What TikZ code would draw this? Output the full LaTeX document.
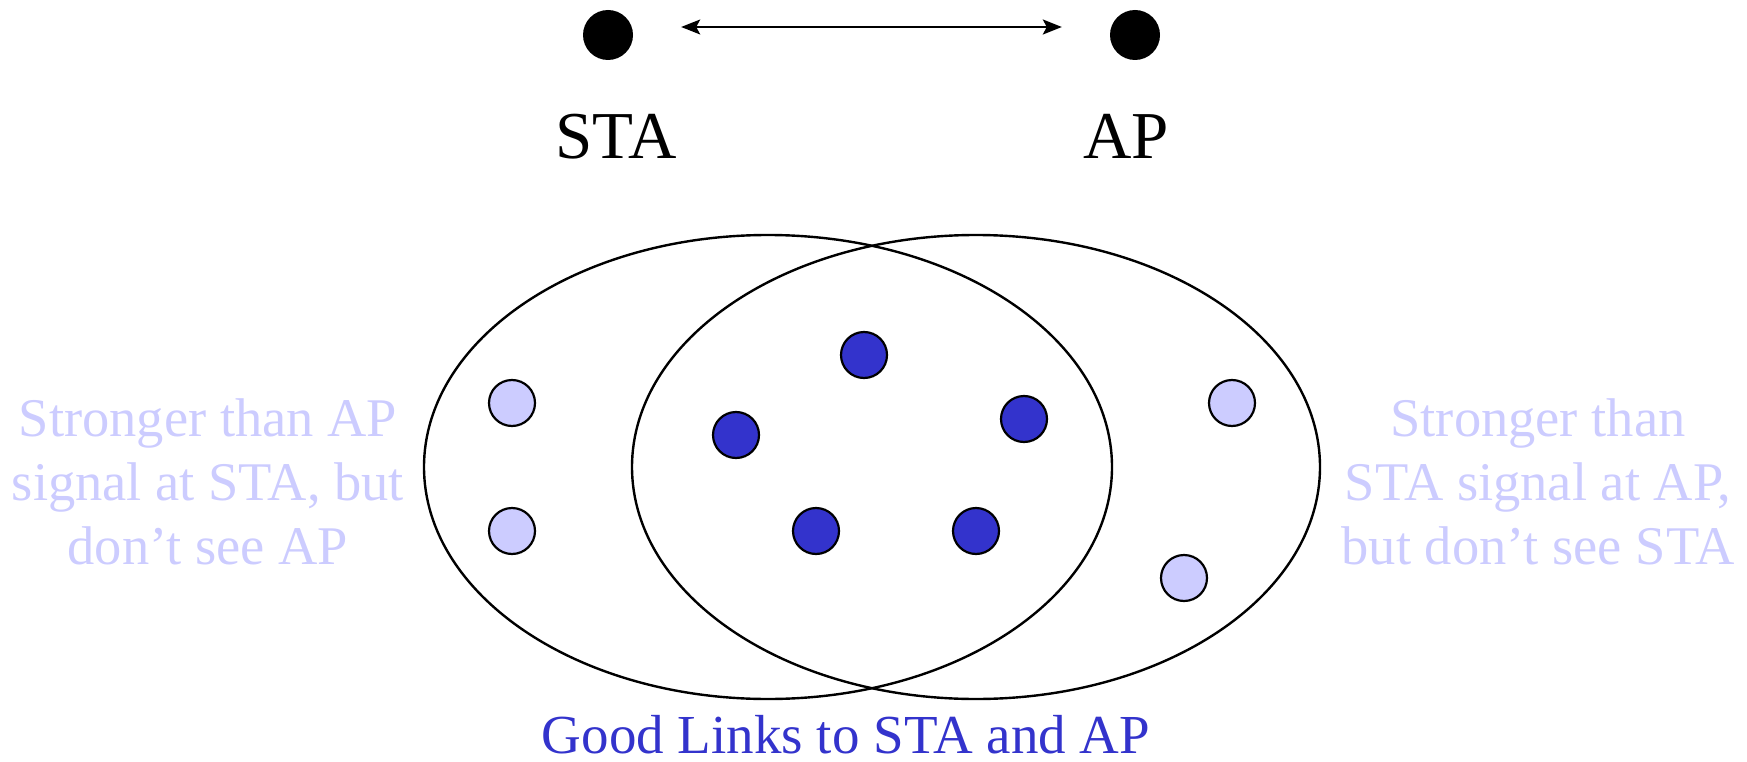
\documentclass[tikz,border=0pt]{standalone}
\usepackage{fontspec}
\setmainfont{Liberation Serif}
\usetikzlibrary{arrows.meta,shapes.geometric}
\definecolor{lightb}{HTML}{CCCCFF}
\definecolor{darkb}{HTML}{3333CC}
\begin{document}
\begin{tikzpicture}[x=1pt,y=-1pt,
  dot/.style={circle,fill=black,minimum size=50pt,inner sep=0pt},
  region/.style={ellipse,draw=black,line width=2.4pt,minimum width=688pt,minimum height=464pt,inner sep=0pt},
  weak/.style={circle,draw=black,line width=2.2pt,fill=lightb,minimum size=46pt,inner sep=0pt},
  good/.style={circle,draw=black,line width=2.2pt,fill=darkb,minimum size=46pt,inner sep=0pt},
  lbl/.style={font=\fontsize{67}{80}\selectfont,anchor=base,inner sep=0pt},
  note/.style={font=\fontsize{54.5}{64}\selectfont,text=lightb,align=center,anchor=base,inner sep=0pt},
  arr/.style={{Stealth[length=19pt,width=15pt,inset=4pt]}-{Stealth[length=19pt,width=15pt,inset=4pt]},line width=2pt}]
\useasboundingbox (0,0) rectangle (1747,762);
\node[dot] (sta) at (608,35) {};
\node[dot] (ap) at (1135,35) {};
\draw[arr] ([shift={(48pt,8pt)}]sta.east) -- ([shift={(-48pt,8pt)}]ap.west);
\node[lbl] (stal) at (616,159) {STA};
\node[lbl] (apl) at (1126,159) {AP};
\node[region] (left) at (768,467) {};
\node[region] (right) at (976,467) {};
\node[weak] (w1) at (512,403) {};
\node[weak] (w2) at (512,531) {};
\node[weak] (w3) at (1232,403) {};
\node[weak] (w4) at (1184,578) {};
\node[good] (g1) at (864,355) {};
\node[good] (g2) at (736,435) {};
\node[good] (g3) at (1024,419) {};
\node[good] (g4) at (816,531) {};
\node[good] (g5) at (976,531) {};
\node[note] (ltext) at (208,564) {Stronger than AP\\signal at STA, but\\don’t see AP};
\node[note] (rtext) at (1538,564) {Stronger than\\STA signal at AP,\\but don’t see STA};
\node[font=\fontsize{55}{66}\selectfont,text=darkb,anchor=base,inner sep=0pt] (good) at (846,753) {Good Links to STA and AP};
\end{tikzpicture}
\end{document}
